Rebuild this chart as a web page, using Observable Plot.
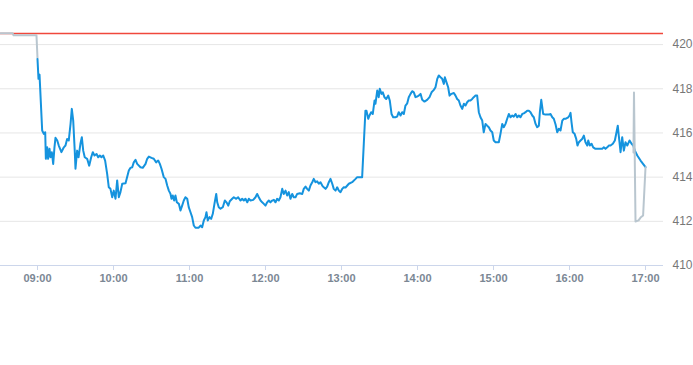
<!DOCTYPE html>
<html><head><meta charset="utf-8">
<script src="https://cdn.jsdelivr.net/npm/d3@7"></script>
<script src="https://cdn.jsdelivr.net/npm/@observablehq/plot@0.6"></script>
<style>body{margin:0;background:#fff} svg{display:block}</style>
</head><body><div id="chart"></div>
<script>
// minutes after 09:00 and prices
const sessionMinutes = [0,0.8,1.6,3.7,5.0,6.1,6.6,7.7,8.4,9.5,10.3,11.3,12.4,13.4,14.2,15.6,16.8,18.9,20.8,22.1,23.4,24.7,26.1,27.1,28.2,29.4,30.0,31.3,32.4,33.9,35.0,36.1,37.3,39.2,40.8,42.4,43.7,45.0,46.6,47.9,49.2,50.5,51.9,53.4,55.0,56.3,57.6,59.0,60.2,61.6,62.9,64.2,65.5,66.9,69.5,72.1,73.4,74.8,76.0,77.4,
78.7,81.3,83.1,85.3,86.6,87.9,90.0,91.8,93.7,95.3,96.6,97.9,99.7,101.1,102.4,103.7,105.0,105.8,106.8,107.9,108.9,110.0,111.6,112.9,114.2,115.5,116.8,118.2,119.4,120.8,122.1,123.4,124.7,127.3,128.7,130.0,131.3,132.6,133.4,134.4,135.8,137.1,138.4,139.7,141.1,141.9,143.1,144.5,146.3,147.9,149.2,150.6,151.8,153.7,155.0,156.9,158.4,160.3,
161.6,162.9,164.2,165.6,166.8,168.2,170.3,172.1,173.4,174.7,176.1,177.4,178.7,180.0,181.3,182.6,183.9,185.3,186.6,187.9,189.2,190.5,191.8,193.2,194.4,195.8,197.1,198.4,199.7,201.1,202.3,203.7,205.0,207.1,209.0,210.2,211.6,212.9,214.2,215.5,216.9,218.1,219.5,220.8,222.1,223.4,224.8,226.0,227.4,228.7,230.0,231.3,232.7,233.9,235.3,236.6,237.9,239.2,240.6,241.8,
243.2,245.8,248.4,251.1,252.4,256.3,257.6,258.9,259.7,261.1,262.1,263.4,264.7,266.1,266.8,268.2,269.4,270.2,271.6,272.6,273.9,275.3,276.9,278.1,279.5,280.8,282.6,283.9,285.2,286.6,287.9,289.2,290.5,291.9,293.1,294.5,295.8,297.1,298.4,299.8,301.0,302.4,303.7,305.5,307.6,309.5,311.1,312.9,314.2,315.6,316.8,318.2,319.5,320.8,321.6,322.9,324.2,325.3,326.8,328.7,
330.0,331.3,332.6,333.9,335.3,336.6,337.9,339.2,340.5,341.8,343.2,344.4,345.8,347.1,348.4,349.7,351.1,352.3,353.7,355.0,356.3,357.6,359.0,360.2,361.6,364.2,365.5,366.9,368.1,369.5,370.8,372.1,373.4,374.8,376.0,377.4,378.7,380.0,381.3,382.7,383.9,385.3,386.6,387.9,389.2,390.6,391.8,393.2,394.5,395.8,396.6,397.7,399.2,401.1,403.7,405.0,406.4,407.6,409.0,410.3,411.6,412.9,
414.3,415.5,416.8,419.0,420.0,420.8,421.6,422.6,424.0,425.3,426.3,427.4,428.7,430.0,431.3,432.6,434.0,434.8,436.0,437.4,438.7,440.5,443.2,445.8,447.1,448.4,449.8,451.0,452.4,454.2,455.8,457.1,458.1,458.9,460.3,461.6,462.9,464.2,465.6,467.4,469.0,470.3,471.6,473.5,476.1,480.0];
const sessionPrices = [419.35,418.45,418.64,416.11,415.96,416.03,414.83,415.35,414.83,415.28,414.90,415.13,414.60,415.35,415.78,415.66,415.43,415.13,415.35,415.43,415.73,415.66,416.41,417.09,416.56,415.20,414.38,415.20,414.90,415.51,415.81,415.20,414.90,414.83,414.52,414.90,415.13,414.98,415.05,414.90,414.98,414.90,414.98,414.75,414.15,413.54,413.47,413.09,413.39,413.02,413.85,413.09,413.32,413.70,413.72,414.30,414.42,414.45,414.67,414.78,
414.60,414.45,414.42,414.60,414.83,414.93,414.87,414.83,414.67,414.75,414.60,414.38,414.00,413.92,413.62,413.39,413.24,413.02,413.17,412.94,413.17,412.86,412.79,412.49,412.71,412.94,413.09,413.02,412.64,412.41,412.19,411.81,411.71,411.71,411.81,411.73,412.04,412.19,412.41,412.04,412.19,412.11,412.34,412.79,413.24,412.86,412.64,412.57,412.64,412.94,412.86,412.71,412.91,413.02,413.09,413.02,413.09,412.94,
413.02,412.94,413.02,412.86,413.02,412.94,412.97,413.09,413.24,413.09,412.94,412.86,412.79,412.71,412.86,412.94,412.86,412.94,412.97,412.86,413.02,412.94,413.09,413.47,413.24,413.39,413.17,413.32,413.02,413.24,413.09,413.09,413.24,413.27,413.24,413.47,413.57,413.47,413.39,413.62,413.77,413.92,413.77,413.81,413.70,413.77,413.62,413.54,413.47,413.57,413.77,413.92,413.70,413.47,413.39,413.54,413.39,413.32,413.47,413.54,
413.53,413.70,413.77,413.92,414.00,414.00,415.51,417.01,417.01,416.64,416.79,416.94,416.86,417.47,417.32,417.92,417.62,418.00,417.77,417.84,417.62,417.54,417.69,417.47,416.86,416.71,416.71,416.74,416.94,416.79,416.94,416.86,417.24,417.34,417.62,417.77,417.89,417.84,417.62,417.65,417.69,417.77,417.50,417.42,417.50,417.62,417.84,417.95,418.07,418.45,418.60,418.52,418.45,418.22,418.52,418.29,418.07,417.69,417.77,417.81,
417.69,417.54,417.47,417.24,417.09,417.32,417.24,417.39,417.47,417.47,417.54,417.62,417.69,417.69,416.94,416.71,416.56,416.03,416.41,416.33,416.26,416.11,416.03,415.66,415.58,415.58,415.96,416.41,416.26,416.41,416.64,416.86,416.71,416.79,416.74,416.86,416.71,416.79,416.71,416.86,416.89,416.94,417.01,417.01,416.94,416.79,416.71,416.41,416.26,416.33,416.94,417.50,416.86,416.83,416.83,416.86,416.71,416.64,416.38,416.03,416.19,416.11,
416.56,416.64,416.64,416.71,416.79,416.91,416.48,416.03,415.96,415.73,415.43,415.58,415.66,415.73,415.88,415.58,415.43,415.66,415.43,415.51,415.35,415.28,415.28,415.28,415.35,415.28,415.35,415.43,415.43,415.51,415.66,416.03,416.33,415.88,415.13,415.81,415.20,415.58,415.43,415.66,415.51,415.43,415.20,414.98,414.75,414.45];
const preMinutes = [-29.2, -19.7, -18.9, -0.8, 0];
const prePrices = [420.51, 420.51, 420.42, 420.42, 419.40];
const postMinutes = [470.5, 470.9, 472.1, 474.5, 476.1, 478.1, 480.0];
const postPrices = [415.11, 417.83, 411.99, 412.04, 412.17, 412.26, 414.45];
const previousClose = [420.5];
const xTickLabels = ["09:00","10:00","11:00","12:00","13:00","14:00","15:00","16:00","17:00"];
const yTicks = [410, 412, 414, 416, 418, 420];

const base = new Date(2024, 0, 2, 9, 0, 0);
const toDate = m => new Date(base.getTime() + m * 60000);
const toRows = (ms, ps) => ms.map((m, i) => ({t: toDate(m), v: ps[i]}));
const session = toRows(sessionMinutes, sessionPrices);
const pre = toRows(preMinutes, prePrices);
const post = toRows(postMinutes, postPrices);
const xTicks = xTickLabels.map(s => { const [h, mm] = s.split(":").map(Number); return new Date(2024, 0, 2, h, mm); });
const xDomain = [toDate(-29.2), toDate(494.2)];

const chart = Plot.plot({
  width: 693, height: 365,
  marginLeft: 0, marginRight: 30, marginTop: 22, marginBottom: 100,
  style: {fontFamily: "'Liberation Sans', Arial, sans-serif", fontSize: "11px", background: "#fff", overflow: "visible"},
  x: {type: "time", domain: xDomain},
  y: {domain: [410, 421]},
  marks: [
    Plot.gridY(yTicks.filter(d => d > 410), {stroke: "#e6e6e6", strokeOpacity: 1}),
    Plot.axisX(xTicks, {tickSize: 5, tickPadding: 4, tickFormat: d3.timeFormat("%H:%M"), stroke: "#ccd6eb", fill: "#7b8794", fontWeight: "bold", label: null}),
    Plot.ruleY([410], {stroke: "#ccd6eb"}),
    Plot.axisY(yTicks, {anchor: "right", tickSize: 0, tickPadding: 9, fill: "#777", fontSize: 12, label: null}),
    Plot.ruleY(previousClose, {y: d => d, stroke: "#f0483c", strokeWidth: 1.4}),
    Plot.line(pre, {x: "t", y: "v", stroke: "#b9c6cf", strokeWidth: 2}),
    Plot.line(session, {x: "t", y: "v", stroke: "#1593de", strokeWidth: 2}),
    Plot.line(post, {x: "t", y: "v", stroke: "#b9c6cf", strokeWidth: 2})
  ]
});
document.getElementById("chart").appendChild(chart);
</script>
</body></html>
